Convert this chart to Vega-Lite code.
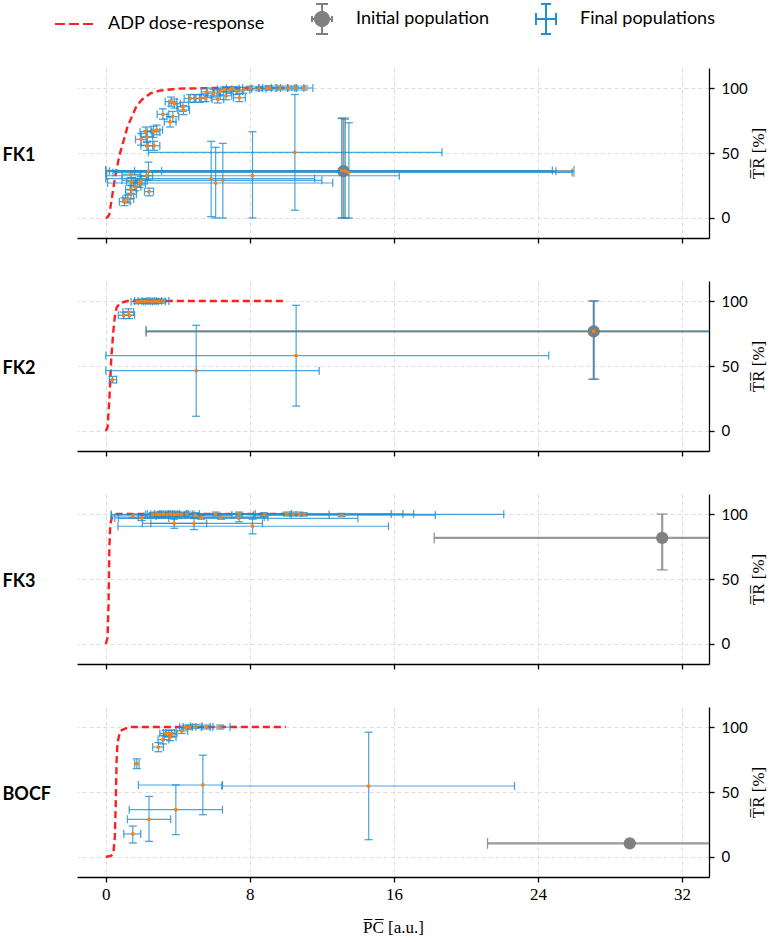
{
  "$schema": "https://vega.github.io/schema/vega-lite/v6.json",
  "padding": {"left": 2, "right": 2, "top": 3, "bottom": 5},
  "data": {"name": "d"},
  "datasets": {
    "d": [
      {"p":"FK1","k":"A","x":0,"y":0},{"p":"FK1","k":"A","x":0.1,"y":0.5},{"p":"FK1","k":"A","x":0.2,"y":3},{"p":"FK1","k":"A","x":0.3,"y":12},{"p":"FK1","k":"A","x":0.5,"y":30},{"p":"FK1","k":"A","x":0.75,"y":48},{"p":"FK1","k":"A","x":1.0,"y":60},{"p":"FK1","k":"A","x":1.2,"y":70},{"p":"FK1","k":"A","x":1.45,"y":78},{"p":"FK1","k":"A","x":1.7,"y":86},{"p":"FK1","k":"A","x":2.0,"y":91},{"p":"FK1","k":"A","x":2.5,"y":96},{"p":"FK1","k":"A","x":3.0,"y":98},{"p":"FK1","k":"A","x":4.0,"y":99.5},{"p":"FK1","k":"A","x":6.0,"y":100},{"p":"FK1","k":"A","x":10,"y":100},
      {"p":"FK2","k":"A","x":0,"y":0},{"p":"FK2","k":"A","x":0.1,"y":3},{"p":"FK2","k":"A","x":0.2,"y":25},{"p":"FK2","k":"A","x":0.3,"y":55},{"p":"FK2","k":"A","x":0.42,"y":77},{"p":"FK2","k":"A","x":0.5,"y":88},{"p":"FK2","k":"A","x":0.6,"y":95},{"p":"FK2","k":"A","x":0.8,"y":98.5},{"p":"FK2","k":"A","x":1.2,"y":100},{"p":"FK2","k":"A","x":10,"y":100},
      {"p":"FK3","k":"A","x":0,"y":0},{"p":"FK3","k":"A","x":0.1,"y":5},{"p":"FK3","k":"A","x":0.15,"y":30},{"p":"FK3","k":"A","x":0.2,"y":75},{"p":"FK3","k":"A","x":0.25,"y":92},{"p":"FK3","k":"A","x":0.35,"y":98},{"p":"FK3","k":"A","x":0.6,"y":100},{"p":"FK3","k":"A","x":10,"y":100},
      {"p":"BOCF","k":"A","x":0,"y":0},{"p":"BOCF","k":"A","x":0.3,"y":1},{"p":"BOCF","k":"A","x":0.42,"y":3},{"p":"BOCF","k":"A","x":0.5,"y":15},{"p":"BOCF","k":"A","x":0.55,"y":40},{"p":"BOCF","k":"A","x":0.6,"y":74},{"p":"BOCF","k":"A","x":0.65,"y":88},{"p":"BOCF","k":"A","x":0.8,"y":97},{"p":"BOCF","k":"A","x":1.3,"y":100},{"p":"BOCF","k":"A","x":10,"y":100},

      {"p":"FK1","k":"I","x":13.2,"y":36,"xl":0,"xh":26,"yl":0,"yh":77},
      {"p":"FK2","k":"I","x":27.1,"y":76.7,"xl":2.24,"xh":52,"yl":39.8,"yh":100},
      {"p":"FK3","k":"I","x":30.9,"y":81.6,"xl":18.24,"xh":43.6,"yl":57,"yh":100},
      {"p":"BOCF","k":"I","x":29.1,"y":10.5,"xl":21.2,"xh":37,"yl":10.5,"yh":10.5},

      {"p":"FK1","k":"F","x":13.1,"y":36.5,"xl":0,"xh":24.8,"yl":0,"yh":76.5},
      {"p":"FK1","k":"F","x":13.3,"y":36,"xl":0.2,"xh":25.0,"yl":0,"yh":76},
      {"p":"FK1","k":"F","x":13.5,"y":35,"xl":0.4,"xh":25.9,"yl":0,"yh":73.3},
      {"p":"FK1","k":"F","x":10.5,"y":50.5,"xl":2.37,"xh":18.67,"yl":6,"yh":95},
      {"p":"FK1","k":"F","x":8.15,"y":32.5,"xl":0.05,"xh":16.3,"yl":0,"yh":66.4},
      {"p":"FK1","k":"F","x":5.85,"y":30.3,"xl":0,"xh":11.6,"yl":1,"yh":59},
      {"p":"FK1","k":"F","x":6.1,"y":26.9,"xl":0.1,"xh":12.6,"yl":0,"yh":54.4},
      {"p":"FK1","k":"F","x":6.5,"y":29,"xl":0.9,"xh":12.0,"yl":0,"yh":57.4},
      {"p":"FK1","k":"F","x":2.37,"y":36.1,"xl":1.6,"xh":3.1,"yl":29,"yh":43},
      {"p":"FK1","k":"F","x":2.26,"y":32.5,"xl":1.95,"xh":2.6,"yl":29,"yh":36},
      {"p":"FK1","k":"F","x":1.96,"y":28.7,"xl":1.65,"xh":2.3,"yl":25.5,"yh":32},
      {"p":"FK1","k":"F","x":1.87,"y":26.7,"xl":1.55,"xh":2.2,"yl":23.5,"yh":30},
      {"p":"FK1","k":"F","x":1.63,"y":24,"xl":1.35,"xh":1.95,"yl":21,"yh":27},
      {"p":"FK1","k":"F","x":1.44,"y":28,"xl":1.15,"xh":1.75,"yl":25,"yh":31},
      {"p":"FK1","k":"F","x":1.39,"y":22,"xl":1.1,"xh":1.7,"yl":19,"yh":25},
      {"p":"FK1","k":"F","x":1.4,"y":18.2,"xl":1.1,"xh":1.7,"yl":15,"yh":21.5},
      {"p":"FK1","k":"F","x":1.22,"y":14.6,"xl":0.95,"xh":1.55,"yl":11.5,"yh":17.5},
      {"p":"FK1","k":"F","x":1.03,"y":12.5,"xl":0.75,"xh":1.35,"yl":9.5,"yh":15.5},
      {"p":"FK1","k":"F","x":2.4,"y":20.3,"xl":2.15,"xh":2.65,"yl":17,"yh":23},
      {"p":"FK1","k":"F","x":1.4,"y":33.6,"xl":0.9,"xh":1.9,"yl":31,"yh":36},
      {"p":"FK1","k":"F","x":1.96,"y":60.5,"xl":1.65,"xh":2.3,"yl":56,"yh":65},
      {"p":"FK1","k":"F","x":2.28,"y":62.6,"xl":1.95,"xh":2.6,"yl":58,"yh":67},
      {"p":"FK1","k":"F","x":2.22,"y":66.4,"xl":1.9,"xh":2.55,"yl":62,"yh":70},
      {"p":"FK1","k":"F","x":2.65,"y":66.4,"xl":2.3,"xh":3.0,"yl":62,"yh":70.5},
      {"p":"FK1","k":"F","x":2.83,"y":67.7,"xl":2.5,"xh":3.15,"yl":64,"yh":71.5},
      {"p":"FK1","k":"F","x":2.28,"y":55.6,"xl":1.95,"xh":2.6,"yl":52,"yh":59},
      {"p":"FK1","k":"F","x":2.68,"y":55.6,"xl":2.35,"xh":3.0,"yl":52,"yh":59},
      {"p":"FK1","k":"F","x":3.17,"y":79.8,"xl":2.85,"xh":3.5,"yl":76,"yh":84},
      {"p":"FK1","k":"F","x":3.57,"y":74,"xl":3.25,"xh":3.9,"yl":70,"yh":78},
      {"p":"FK1","k":"F","x":3.72,"y":78,"xl":3.4,"xh":4.05,"yl":74,"yh":82},
      {"p":"FK1","k":"F","x":3.63,"y":89.5,"xl":3.3,"xh":3.95,"yl":86,"yh":93},
      {"p":"FK1","k":"F","x":3.81,"y":88,"xl":3.5,"xh":4.15,"yl":84.5,"yh":91.5},
      {"p":"FK1","k":"F","x":4.28,"y":85.6,"xl":3.95,"xh":4.6,"yl":82,"yh":89},
      {"p":"FK1","k":"F","x":4.31,"y":83,"xl":4.0,"xh":4.65,"yl":79.5,"yh":86.5},
      {"p":"FK1","k":"F","x":4.68,"y":92,"xl":4.35,"xh":5.0,"yl":89,"yh":95},
      {"p":"FK1","k":"F","x":4.96,"y":92,"xl":4.6,"xh":5.3,"yl":89,"yh":95},
      {"p":"FK1","k":"F","x":5.24,"y":92,"xl":4.9,"xh":5.6,"yl":89,"yh":95},
      {"p":"FK1","k":"F","x":5.52,"y":92.5,"xl":5.2,"xh":5.85,"yl":89.5,"yh":95.5},
      {"p":"FK1","k":"F","x":5.6,"y":97,"xl":5.3,"xh":5.95,"yl":94,"yh":100},
      {"p":"FK1","k":"F","x":5.98,"y":96,"xl":5.65,"xh":6.3,"yl":93,"yh":99},
      {"p":"FK1","k":"F","x":6.22,"y":91.3,"xl":5.9,"xh":6.55,"yl":88.5,"yh":94},
      {"p":"FK1","k":"F","x":6.35,"y":97.7,"xl":6.0,"xh":6.7,"yl":95,"yh":100},
      {"p":"FK1","k":"F","x":6.6,"y":99,"xl":6.2,"xh":7.0,"yl":97,"yh":101},
      {"p":"FK1","k":"F","x":6.68,"y":94,"xl":6.35,"xh":7.0,"yl":91,"yh":97},
      {"p":"FK1","k":"F","x":6.9,"y":98.5,"xl":6.55,"xh":7.25,"yl":96,"yh":100.5},
      {"p":"FK1","k":"F","x":7.05,"y":99.7,"xl":6.7,"xh":7.4,"yl":97.5,"yh":101},
      {"p":"FK1","k":"F","x":7.28,"y":97.7,"xl":6.95,"xh":7.6,"yl":95,"yh":100.5},
      {"p":"FK1","k":"F","x":7.42,"y":92.5,"xl":7.1,"xh":7.75,"yl":89.5,"yh":95.5},
      {"p":"FK1","k":"F","x":7.64,"y":98.5,"xl":7.3,"xh":8.0,"yl":96,"yh":100.5},
      {"p":"FK1","k":"F","x":8.02,"y":100,"xl":7.6,"xh":8.5,"yl":98.5,"yh":101.5},
      {"p":"FK1","k":"F","x":8.5,"y":99.5,"xl":8.1,"xh":8.9,"yl":98,"yh":101},
      {"p":"FK1","k":"F","x":8.94,"y":100,"xl":8.5,"xh":9.4,"yl":98.5,"yh":101.5},
      {"p":"FK1","k":"F","x":9.1,"y":100,"xl":8.7,"xh":9.5,"yl":98.5,"yh":101.5},
      {"p":"FK1","k":"F","x":9.68,"y":100,"xl":9.2,"xh":10.1,"yl":98.5,"yh":101.5},
      {"p":"FK1","k":"F","x":10.14,"y":100,"xl":9.7,"xh":10.6,"yl":98.5,"yh":101.5},
      {"p":"FK1","k":"F","x":10.52,"y":100,"xl":10.1,"xh":11.0,"yl":98.5,"yh":101.5},
      {"p":"FK1","k":"F","x":11.02,"y":100,"xl":10.5,"xh":11.5,"yl":98.5,"yh":101.5},

      {"p":"FK2","k":"F","x":27.1,"y":76.7,"xl":2.24,"xh":52,"yl":39.8,"yh":100},
      {"p":"FK2","k":"F","x":10.57,"y":58,"xl":0,"xh":24.6,"yl":19.2,"yh":96.7},
      {"p":"FK2","k":"F","x":5.02,"y":46.4,"xl":0,"xh":11.85,"yl":11.3,"yh":81.3},
      {"p":"FK2","k":"F","x":0.37,"y":39.5,"xl":0.2,"xh":0.6,"yl":37,"yh":42},
      {"p":"FK2","k":"F","x":0.98,"y":89,"xl":0.7,"xh":1.3,"yl":86.5,"yh":91.5},
      {"p":"FK2","k":"F","x":1.26,"y":91.5,"xl":0.95,"xh":1.55,"yl":89,"yh":94},
      {"p":"FK2","k":"F","x":1.3,"y":89,"xl":1.0,"xh":1.6,"yl":86.5,"yh":91.5},
      {"p":"FK2","k":"F","x":1.75,"y":99.5,"xl":1.4,"xh":2.1,"yl":98,"yh":101},
      {"p":"FK2","k":"F","x":1.95,"y":100,"xl":1.6,"xh":2.3,"yl":98.5,"yh":101.5},
      {"p":"FK2","k":"F","x":2.15,"y":99.8,"xl":1.8,"xh":2.5,"yl":98.3,"yh":101.3},
      {"p":"FK2","k":"F","x":2.35,"y":100,"xl":2.0,"xh":2.7,"yl":98.5,"yh":101.5},
      {"p":"FK2","k":"F","x":2.55,"y":99.6,"xl":2.2,"xh":2.9,"yl":98,"yh":101},
      {"p":"FK2","k":"F","x":2.75,"y":100,"xl":2.4,"xh":3.1,"yl":98.5,"yh":101.5},
      {"p":"FK2","k":"F","x":2.95,"y":99.7,"xl":2.6,"xh":3.3,"yl":98.3,"yh":101.3},
      {"p":"FK2","k":"F","x":3.15,"y":100,"xl":2.8,"xh":3.5,"yl":98.5,"yh":101.5},

      {"p":"FK3","k":"F","x":2.6,"y":99.5,"xl":2.2,"xh":3.0,"yl":98,"yh":101},
      {"p":"FK3","k":"F","x":2.8,"y":100,"xl":2.3,"xh":3.3,"yl":98.5,"yh":101.5},
      {"p":"FK3","k":"F","x":3.0,"y":99.8,"xl":2.5,"xh":3.5,"yl":98,"yh":101.5},
      {"p":"FK3","k":"F","x":3.2,"y":100,"xl":2.7,"xh":3.7,"yl":98.5,"yh":101.5},
      {"p":"FK3","k":"F","x":3.4,"y":99.6,"xl":2.9,"xh":3.9,"yl":98,"yh":101},
      {"p":"FK3","k":"F","x":3.6,"y":100,"xl":3.1,"xh":4.1,"yl":98.5,"yh":101.5},
      {"p":"FK3","k":"F","x":3.8,"y":99.7,"xl":3.2,"xh":4.4,"yl":98,"yh":101.5},
      {"p":"FK3","k":"F","x":4.0,"y":100,"xl":3.4,"xh":4.6,"yl":98.5,"yh":101.5},
      {"p":"FK3","k":"F","x":4.2,"y":99.8,"xl":3.6,"xh":4.8,"yl":98.3,"yh":101.3},
      {"p":"FK3","k":"F","x":4.5,"y":100,"xl":3.8,"xh":5.2,"yl":98.5,"yh":101.5},
      {"p":"FK3","k":"F","x":4.96,"y":99.2,"xl":3.5,"xh":7.0,"yl":97.5,"yh":101},
      {"p":"FK3","k":"F","x":5.3,"y":97.5,"xl":1.8,"xh":8.8,"yl":96,"yh":99},
      {"p":"FK3","k":"F","x":6.1,"y":100,"xl":4.0,"xh":8.3,"yl":98.5,"yh":101.5},
      {"p":"FK3","k":"F","x":6.4,"y":97.6,"xl":3.8,"xh":9.0,"yl":96,"yh":99.5},
      {"p":"FK3","k":"F","x":7.4,"y":100,"xl":4.5,"xh":10.3,"yl":98.5,"yh":101.5},
      {"p":"FK3","k":"F","x":7.4,"y":96.7,"xl":0.7,"xh":14.0,"yl":94,"yh":99.5},
      {"p":"FK3","k":"F","x":8.8,"y":99.6,"xl":4.9,"xh":12.4,"yl":98,"yh":101},
      {"p":"FK3","k":"F","x":10.05,"y":100,"xl":3.0,"xh":15.85,"yl":98.5,"yh":101.5},
      {"p":"FK3","k":"F","x":10.4,"y":100,"xl":4.5,"xh":16.5,"yl":98.5,"yh":101.5},
      {"p":"FK3","k":"F","x":10.75,"y":100,"xl":3.5,"xh":17.1,"yl":98.5,"yh":101.5},
      {"p":"FK3","k":"F","x":11.0,"y":99.8,"xl":0.3,"xh":22.1,"yl":98.5,"yh":101},
      {"p":"FK3","k":"F","x":13.1,"y":99.2,"xl":8.2,"xh":18.3,"yl":98,"yh":100.5},
      {"p":"FK3","k":"F","x":3.8,"y":92.8,"xl":2.03,"xh":5.6,"yl":89,"yh":96},
      {"p":"FK3","k":"F","x":4.9,"y":92.8,"xl":2.5,"xh":8.7,"yl":88,"yh":96.5},
      {"p":"FK3","k":"F","x":8.15,"y":90.6,"xl":0.67,"xh":15.7,"yl":84.7,"yh":96},
      {"p":"FK3","k":"F","x":1.5,"y":98.5,"xl":0.3,"xh":2.8,"yl":97,"yh":100},
      {"p":"FK3","k":"F","x":2.0,"y":97,"xl":0.5,"xh":3.5,"yl":95,"yh":99},

      {"p":"BOCF","k":"F","x":1.72,"y":71.8,"xl":1.6,"xh":1.85,"yl":68,"yh":75.5},
      {"p":"BOCF","k":"F","x":2.92,"y":84.6,"xl":2.6,"xh":3.2,"yl":81,"yh":88},
      {"p":"BOCF","k":"F","x":3.17,"y":90.3,"xl":2.9,"xh":3.5,"yl":87,"yh":93.5},
      {"p":"BOCF","k":"F","x":3.57,"y":92.3,"xl":3.25,"xh":3.9,"yl":89.5,"yh":95},
      {"p":"BOCF","k":"F","x":3.32,"y":95,"xl":3.0,"xh":3.65,"yl":93,"yh":97.5},
      {"p":"BOCF","k":"F","x":3.5,"y":95.3,"xl":3.2,"xh":3.8,"yl":93,"yh":97.5},
      {"p":"BOCF","k":"F","x":3.65,"y":95,"xl":3.35,"xh":3.95,"yl":92.5,"yh":97.5},
      {"p":"BOCF","k":"F","x":4.22,"y":97,"xl":3.9,"xh":4.55,"yl":95,"yh":99.5},
      {"p":"BOCF","k":"F","x":4.45,"y":100,"xl":4.1,"xh":4.8,"yl":98.5,"yh":101.5},
      {"p":"BOCF","k":"F","x":4.65,"y":100,"xl":4.3,"xh":5.0,"yl":98.5,"yh":101.5},
      {"p":"BOCF","k":"F","x":5.0,"y":100.5,"xl":4.7,"xh":5.35,"yl":99,"yh":102},
      {"p":"BOCF","k":"F","x":5.6,"y":100,"xl":5.3,"xh":5.95,"yl":98.5,"yh":101.5},
      {"p":"BOCF","k":"F","x":6.35,"y":100,"xl":5.8,"xh":6.9,"yl":98.5,"yh":101.5},
      {"p":"BOCF","k":"F","x":5.39,"y":55.4,"xl":1.81,"xh":6.48,"yl":32.5,"yh":78.3},
      {"p":"BOCF","k":"F","x":14.6,"y":54.6,"xl":6.44,"xh":22.7,"yl":13.3,"yh":96},
      {"p":"BOCF","k":"F","x":3.89,"y":36.4,"xl":1.3,"xh":6.48,"yl":17.2,"yh":55.4},
      {"p":"BOCF","k":"F","x":2.4,"y":29,"xl":1.2,"xh":3.6,"yl":12,"yh":46.6},
      {"p":"BOCF","k":"F","x":1.5,"y":17.7,"xl":1.0,"xh":1.94,"yl":10.8,"yh":23.8}
    ]
  },
  "spacing": 37,
  "vconcat": [
    {
      "width": 632, "height": 170,
      "transform": [{"filter": "datum.p === 'FK1'"}],
      "resolve": {"axis": {"y": "independent"}},
      "layer": [
        {"transform": [{"filter": "datum.k === 'A'"}], "mark": {"type": "line", "strokeDash": [7, 4], "strokeWidth": 2.4, "clip": true},
         "encoding": {
           "x": {"field": "x", "type": "quantitative", "scale": {"domain": [-1.6, 33.5], "nice": false, "zero": false}, "axis": {"values": [0, 8, 16, 24, 32], "labels": false, "title": null}},
           "y": {"field": "y", "type": "quantitative", "scale": {"domain": [-15.4, 115.4], "nice": false, "zero": false}, "axis": {"orient": "right", "values": [0, 50, 100], "title": "T̅R̅ [%]"}},
           "color": {"field": "k", "type": "nominal",
             "scale": {"domain": ["A", "I", "F"], "range": ["#ff1f1f", "#808080", "#1f8fd0"]},
             "legend": {
               "orient": "none", "legendX": -19, "legendY": -65, "direction": "horizontal", "title": null,
               "symbolSize": 900, "labelFont": "Lato", "labelFontSize": 18, "labelOffset": 18, "columnPadding": 41,
               "labelExpr": "{'A': 'ADP dose-response', 'I': 'Initial population', 'F': 'Final populations'}[datum.label]",
               "encode": {"symbols": {"update": {
                 "shape": {"signal": "datum.value === 'A' ? 'M-1.27,0H-0.6M-0.33,0H0.33M0.6,0H1.27' : datum.value === 'I' ? 'M0,-1V1M-0.4,-1H0.4M-0.4,1H0.4M-0.67,0H0.67M-0.67,-0.2V0.2M0.67,-0.2V0.2M0.47,0A0.47,0.47,0,1,1,-0.47,0A0.47,0.47,0,1,1,0.47,0Z' : 'M0,-1V1M-0.33,-1H0.33M-0.33,1H0.33M-0.67,0H0.67M-0.67,-0.4V0.4M0.67,-0.4V0.4'"},
                 "fill": {"signal": "datum.value === 'I' ? '#808080' : 'transparent'"},
                 "stroke": {"signal": "datum.value === 'A' ? '#ff1f1f' : datum.value === 'I' ? '#808080' : '#1f8fd0'"},
                 "strokeWidth": {"value": 2},
                 "strokeDash": {"value": [1, 0]},
                 "opacity": {"value": 1}
               }}}
             }}
         }},
        {"transform": [{"filter": "datum.k === 'A'"}], "mark": {"type": "rule", "opacity": 0},
         "encoding": {"y": {"field": "y", "type": "quantitative", "axis": {"orient": "left", "title": "FK1", "titleAngle": 0, "labelAngle": 0, "titleAlign": "left", "titleBaseline": "middle", "titleX": -75, "titleY": 87, "labels": false, "ticks": false, "domain": false, "grid": false, "titleFont": "Lato", "titleFontSize": 18, "titleFontWeight": "bold"}}}},
        {"transform": [{"filter": "datum.k === 'I'"}], "mark": {"type": "circle", "size": 150, "opacity": 1, "clip": true},
         "encoding": {"x": {"field": "x", "type": "quantitative"}, "y": {"field": "y", "type": "quantitative", "axis": null}, "color": {"field": "k", "type": "nominal"}}},
        {"transform": [{"filter": "datum.k !== 'A'"}], "mark": {"type": "rule", "opacity": 0.8, "clip": true},
         "encoding": {"x": {"field": "xl", "type": "quantitative"}, "x2": {"field": "xh"}, "y": {"field": "y", "type": "quantitative", "axis": null}, "color": {"field": "k", "type": "nominal"},
           "strokeWidth": {"condition": {"test": "datum.k === 'I'", "value": 2.2}, "value": 1.2}}},
        {"transform": [{"filter": "datum.k !== 'A'"}], "mark": {"type": "rule", "opacity": 0.8, "clip": true},
         "encoding": {"x": {"field": "x", "type": "quantitative"}, "y": {"field": "yl", "type": "quantitative", "axis": null}, "y2": {"field": "yh"}, "color": {"field": "k", "type": "nominal"},
           "strokeWidth": {"condition": {"test": "datum.k === 'I'", "value": 2.2}, "value": 1.2}}},
        {"transform": [{"filter": "datum.k !== 'A'"}, {"fold": ["xl", "xh"], "as": ["c", "v"]}], "mark": {"type": "tick", "orient": "vertical", "thickness": 1.3, "opacity": 0.8, "clip": true},
         "encoding": {"x": {"field": "v", "type": "quantitative"}, "y": {"field": "y", "type": "quantitative", "axis": null}, "color": {"field": "k", "type": "nominal"},
           "size": {"condition": {"test": "datum.k === 'I'", "value": 11}, "value": 8}}},
        {"transform": [{"filter": "datum.k !== 'A'"}, {"fold": ["yl", "yh"], "as": ["c", "v"]}], "mark": {"type": "tick", "orient": "horizontal", "thickness": 1.3, "opacity": 0.8, "clip": true},
         "encoding": {"x": {"field": "x", "type": "quantitative"}, "y": {"field": "v", "type": "quantitative", "axis": null}, "color": {"field": "k", "type": "nominal"},
           "size": {"condition": {"test": "datum.k === 'I'", "value": 11}, "value": 8}}},
        {"transform": [{"filter": "datum.k === 'F'"}], "mark": {"type": "circle", "size": 14, "color": "#ff7f0e", "opacity": 1, "clip": true},
         "encoding": {"x": {"field": "x", "type": "quantitative"}, "y": {"field": "y", "type": "quantitative", "axis": null}}}
      ]
    },
    {
      "width": 632, "height": 170,
      "transform": [{"filter": "datum.p === 'FK2'"}],
      "resolve": {"axis": {"y": "independent"}},
      "layer": [
        {"transform": [{"filter": "datum.k === 'A'"}], "mark": {"type": "line", "strokeDash": [7, 4], "strokeWidth": 2.4, "clip": true},
         "encoding": {
           "x": {"field": "x", "type": "quantitative", "scale": {"domain": [-1.6, 33.5], "nice": false, "zero": false}, "axis": {"values": [0, 8, 16, 24, 32], "labels": false, "title": null}},
           "y": {"field": "y", "type": "quantitative", "scale": {"domain": [-15.4, 115.4], "nice": false, "zero": false}, "axis": {"orient": "right", "values": [0, 50, 100], "title": "T̅R̅ [%]"}},
           "color": {"field": "k", "type": "nominal"}}},
        {"transform": [{"filter": "datum.k === 'A'"}], "mark": {"type": "rule", "opacity": 0},
         "encoding": {"y": {"field": "y", "type": "quantitative", "axis": {"orient": "left", "title": "FK2", "titleAngle": 0, "labelAngle": 0, "titleAlign": "left", "titleBaseline": "middle", "titleX": -75, "titleY": 87, "labels": false, "ticks": false, "domain": false, "grid": false, "titleFont": "Lato", "titleFontSize": 18, "titleFontWeight": "bold"}}}},
        {"transform": [{"filter": "datum.k === 'I'"}], "mark": {"type": "circle", "size": 150, "opacity": 1, "clip": true},
         "encoding": {"x": {"field": "x", "type": "quantitative"}, "y": {"field": "y", "type": "quantitative", "axis": null}, "color": {"field": "k", "type": "nominal"}}},
        {"transform": [{"filter": "datum.k !== 'A'"}], "mark": {"type": "rule", "opacity": 0.8, "clip": true},
         "encoding": {"x": {"field": "xl", "type": "quantitative"}, "x2": {"field": "xh"}, "y": {"field": "y", "type": "quantitative", "axis": null}, "color": {"field": "k", "type": "nominal"},
           "strokeWidth": {"condition": {"test": "datum.k === 'I'", "value": 2.2}, "value": 1.2}}},
        {"transform": [{"filter": "datum.k !== 'A'"}], "mark": {"type": "rule", "opacity": 0.8, "clip": true},
         "encoding": {"x": {"field": "x", "type": "quantitative"}, "y": {"field": "yl", "type": "quantitative", "axis": null}, "y2": {"field": "yh"}, "color": {"field": "k", "type": "nominal"},
           "strokeWidth": {"condition": {"test": "datum.k === 'I'", "value": 2.2}, "value": 1.2}}},
        {"transform": [{"filter": "datum.k !== 'A'"}, {"fold": ["xl", "xh"], "as": ["c", "v"]}], "mark": {"type": "tick", "orient": "vertical", "thickness": 1.3, "opacity": 0.8, "clip": true},
         "encoding": {"x": {"field": "v", "type": "quantitative"}, "y": {"field": "y", "type": "quantitative", "axis": null}, "color": {"field": "k", "type": "nominal"},
           "size": {"condition": {"test": "datum.k === 'I'", "value": 11}, "value": 8}}},
        {"transform": [{"filter": "datum.k !== 'A'"}, {"fold": ["yl", "yh"], "as": ["c", "v"]}], "mark": {"type": "tick", "orient": "horizontal", "thickness": 1.3, "opacity": 0.8, "clip": true},
         "encoding": {"x": {"field": "x", "type": "quantitative"}, "y": {"field": "v", "type": "quantitative", "axis": null}, "color": {"field": "k", "type": "nominal"},
           "size": {"condition": {"test": "datum.k === 'I'", "value": 11}, "value": 8}}},
        {"transform": [{"filter": "datum.k === 'F'"}], "mark": {"type": "circle", "size": 14, "color": "#ff7f0e", "opacity": 1, "clip": true},
         "encoding": {"x": {"field": "x", "type": "quantitative"}, "y": {"field": "y", "type": "quantitative", "axis": null}}}
      ]
    },
    {
      "width": 632, "height": 170,
      "transform": [{"filter": "datum.p === 'FK3'"}],
      "resolve": {"axis": {"y": "independent"}},
      "layer": [
        {"transform": [{"filter": "datum.k === 'A'"}], "mark": {"type": "line", "strokeDash": [7, 4], "strokeWidth": 2.4, "clip": true},
         "encoding": {
           "x": {"field": "x", "type": "quantitative", "scale": {"domain": [-1.6, 33.5], "nice": false, "zero": false}, "axis": {"values": [0, 8, 16, 24, 32], "labels": false, "title": null}},
           "y": {"field": "y", "type": "quantitative", "scale": {"domain": [-15.4, 115.4], "nice": false, "zero": false}, "axis": {"orient": "right", "values": [0, 50, 100], "title": "T̅R̅ [%]"}},
           "color": {"field": "k", "type": "nominal"}}},
        {"transform": [{"filter": "datum.k === 'A'"}], "mark": {"type": "rule", "opacity": 0},
         "encoding": {"y": {"field": "y", "type": "quantitative", "axis": {"orient": "left", "title": "FK3", "titleAngle": 0, "labelAngle": 0, "titleAlign": "left", "titleBaseline": "middle", "titleX": -75, "titleY": 87, "labels": false, "ticks": false, "domain": false, "grid": false, "titleFont": "Lato", "titleFontSize": 18, "titleFontWeight": "bold"}}}},
        {"transform": [{"filter": "datum.k === 'I'"}], "mark": {"type": "circle", "size": 150, "opacity": 1, "clip": true},
         "encoding": {"x": {"field": "x", "type": "quantitative"}, "y": {"field": "y", "type": "quantitative", "axis": null}, "color": {"field": "k", "type": "nominal"}}},
        {"transform": [{"filter": "datum.k !== 'A'"}], "mark": {"type": "rule", "opacity": 0.8, "clip": true},
         "encoding": {"x": {"field": "xl", "type": "quantitative"}, "x2": {"field": "xh"}, "y": {"field": "y", "type": "quantitative", "axis": null}, "color": {"field": "k", "type": "nominal"},
           "strokeWidth": {"condition": {"test": "datum.k === 'I'", "value": 2.2}, "value": 1.2}}},
        {"transform": [{"filter": "datum.k !== 'A'"}], "mark": {"type": "rule", "opacity": 0.8, "clip": true},
         "encoding": {"x": {"field": "x", "type": "quantitative"}, "y": {"field": "yl", "type": "quantitative", "axis": null}, "y2": {"field": "yh"}, "color": {"field": "k", "type": "nominal"},
           "strokeWidth": {"condition": {"test": "datum.k === 'I'", "value": 2.2}, "value": 1.2}}},
        {"transform": [{"filter": "datum.k !== 'A'"}, {"fold": ["xl", "xh"], "as": ["c", "v"]}], "mark": {"type": "tick", "orient": "vertical", "thickness": 1.3, "opacity": 0.8, "clip": true},
         "encoding": {"x": {"field": "v", "type": "quantitative"}, "y": {"field": "y", "type": "quantitative", "axis": null}, "color": {"field": "k", "type": "nominal"},
           "size": {"condition": {"test": "datum.k === 'I'", "value": 11}, "value": 8}}},
        {"transform": [{"filter": "datum.k !== 'A'"}, {"fold": ["yl", "yh"], "as": ["c", "v"]}], "mark": {"type": "tick", "orient": "horizontal", "thickness": 1.3, "opacity": 0.8, "clip": true},
         "encoding": {"x": {"field": "x", "type": "quantitative"}, "y": {"field": "v", "type": "quantitative", "axis": null}, "color": {"field": "k", "type": "nominal"},
           "size": {"condition": {"test": "datum.k === 'I'", "value": 11}, "value": 8}}},
        {"transform": [{"filter": "datum.k === 'F'"}], "mark": {"type": "circle", "size": 14, "color": "#ff7f0e", "opacity": 1, "clip": true},
         "encoding": {"x": {"field": "x", "type": "quantitative"}, "y": {"field": "y", "type": "quantitative", "axis": null}}}
      ]
    },
    {
      "width": 632, "height": 170,
      "transform": [{"filter": "datum.p === 'BOCF'"}],
      "resolve": {"axis": {"y": "independent"}},
      "layer": [
        {"transform": [{"filter": "datum.k === 'A'"}], "mark": {"type": "line", "strokeDash": [7, 4], "strokeWidth": 2.4, "clip": true},
         "encoding": {
           "x": {"field": "x", "type": "quantitative", "scale": {"domain": [-1.6, 33.5], "nice": false, "zero": false}, "axis": {"values": [0, 8, 16, 24, 32], "title": "P̅C̅ [a.u.]"}},
           "y": {"field": "y", "type": "quantitative", "scale": {"domain": [-15.4, 115.4], "nice": false, "zero": false}, "axis": {"orient": "right", "values": [0, 50, 100], "title": "T̅R̅ [%]"}},
           "color": {"field": "k", "type": "nominal"}}},
        {"transform": [{"filter": "datum.k === 'A'"}], "mark": {"type": "rule", "opacity": 0},
         "encoding": {"y": {"field": "y", "type": "quantitative", "axis": {"orient": "left", "title": "BOCF", "titleAngle": 0, "labelAngle": 0, "titleAlign": "left", "titleBaseline": "middle", "titleX": -75, "titleY": 87, "labels": false, "ticks": false, "domain": false, "grid": false, "titleFont": "Lato", "titleFontSize": 18, "titleFontWeight": "bold"}}}},
        {"transform": [{"filter": "datum.k === 'I'"}], "mark": {"type": "circle", "size": 150, "opacity": 1, "clip": true},
         "encoding": {"x": {"field": "x", "type": "quantitative"}, "y": {"field": "y", "type": "quantitative", "axis": null}, "color": {"field": "k", "type": "nominal"}}},
        {"transform": [{"filter": "datum.k !== 'A'"}], "mark": {"type": "rule", "opacity": 0.8, "clip": true},
         "encoding": {"x": {"field": "xl", "type": "quantitative"}, "x2": {"field": "xh"}, "y": {"field": "y", "type": "quantitative", "axis": null}, "color": {"field": "k", "type": "nominal"},
           "strokeWidth": {"condition": {"test": "datum.k === 'I'", "value": 2.2}, "value": 1.2}}},
        {"transform": [{"filter": "datum.k !== 'A'"}], "mark": {"type": "rule", "opacity": 0.8, "clip": true},
         "encoding": {"x": {"field": "x", "type": "quantitative"}, "y": {"field": "yl", "type": "quantitative", "axis": null}, "y2": {"field": "yh"}, "color": {"field": "k", "type": "nominal"},
           "strokeWidth": {"condition": {"test": "datum.k === 'I'", "value": 2.2}, "value": 1.2}}},
        {"transform": [{"filter": "datum.k !== 'A'"}, {"fold": ["xl", "xh"], "as": ["c", "v"]}], "mark": {"type": "tick", "orient": "vertical", "thickness": 1.3, "opacity": 0.8, "clip": true},
         "encoding": {"x": {"field": "v", "type": "quantitative"}, "y": {"field": "y", "type": "quantitative", "axis": null}, "color": {"field": "k", "type": "nominal"},
           "size": {"condition": {"test": "datum.k === 'I'", "value": 11}, "value": 8}}},
        {"transform": [{"filter": "datum.k !== 'A'"}, {"fold": ["yl", "yh"], "as": ["c", "v"]}], "mark": {"type": "tick", "orient": "horizontal", "thickness": 1.3, "opacity": 0.8, "clip": true},
         "encoding": {"x": {"field": "x", "type": "quantitative"}, "y": {"field": "v", "type": "quantitative", "axis": null}, "color": {"field": "k", "type": "nominal"},
           "size": {"condition": {"test": "datum.k === 'I'", "value": 11}, "value": 8}}},
        {"transform": [{"filter": "datum.k === 'F'"}], "mark": {"type": "circle", "size": 14, "color": "#ff7f0e", "opacity": 1, "clip": true},
         "encoding": {"x": {"field": "x", "type": "quantitative"}, "y": {"field": "y", "type": "quantitative", "axis": null}}}
      ]
    }
  ],
  "config": {
    "view": {"stroke": null},
    "axis": {"domainColor": "#000", "domainWidth": 1.3, "tickColor": "#000", "tickWidth": 1.3, "tickSize": 5, "grid": true, "gridColor": "#dcdcdc", "gridDash": [4, 3], "gridWidth": 1, "labelColor": "#000", "titleColor": "#000", "titleFontWeight": "normal"},
    "axisX": {"labelFont": "Liberation Serif", "labelFontSize": 17, "labelPadding": 4, "titleFont": "Liberation Serif", "titleFontSize": 17, "titlePadding": 17},
    "axisY": {"labelFont": "Lato", "labelFontSize": 15, "labelPadding": 7, "titleFont": "Liberation Serif", "titleFontSize": 17, "titlePadding": 20},
    "axisLeft": {"titleAngle": 0},
    "axisRight": {"titleAngle": 270}
  }
}
